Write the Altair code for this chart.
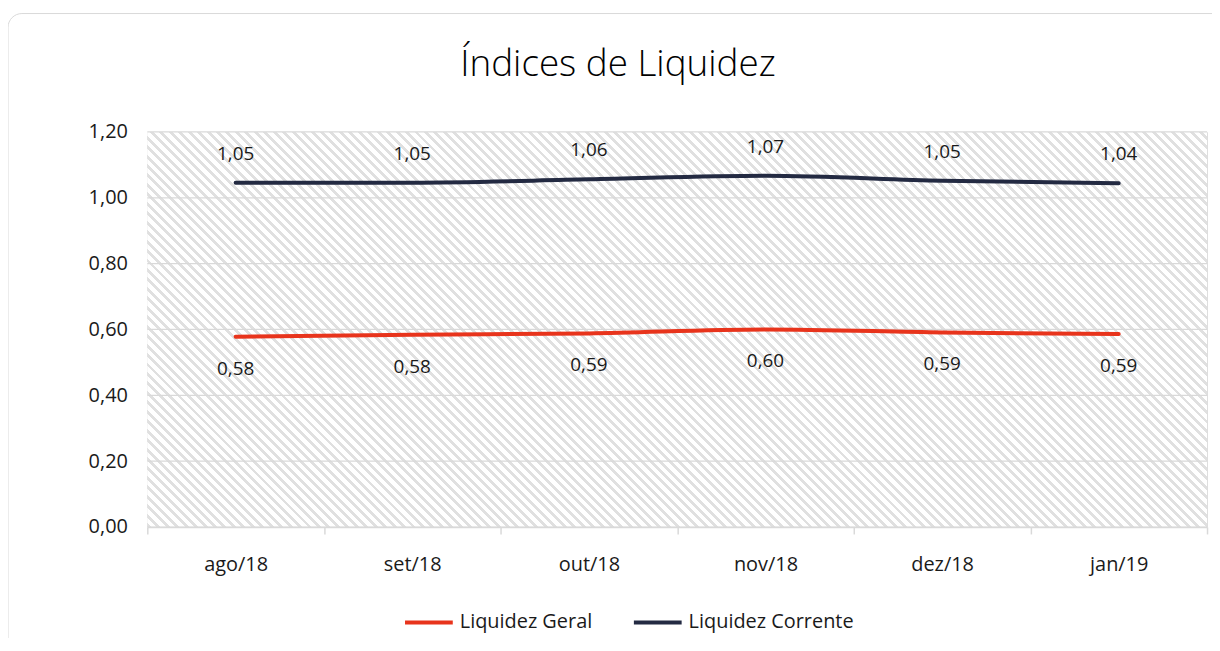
import altair as alt
import pandas as pd

months = ["ago/18", "set/18", "out/18", "nov/18", "dez/18", "jan/19"]
geral = [0.578, 0.584, 0.588, 0.600, 0.591, 0.586]
corrente = [1.046, 1.046, 1.056, 1.067, 1.052, 1.044]
series_names = ["Liquidez Geral", "Liquidez Corrente"]
series_colors = ["#E8341C", "#232A42"]
y_ticks = [0.0, 0.2, 0.4, 0.6, 0.8, 1.0, 1.2]
title_text = "Índices de Liquidez"

rows = []
for m, g, c in zip(months, geral, corrente):
    rows.append({"mes": m, "serie": series_names[0], "valor": g})
    rows.append({"mes": m, "serie": series_names[1], "valor": c})
df = pd.DataFrame(rows)
grid_df = pd.DataFrame({"valor": y_ticks})

W, H = 1065, 397
FONT = "Open Sans"
TXT = "#1a1a1a"

# diagonal hatch as a hard-stop linear gradient (stripes at 45 deg, "\" direction)
P = 9.5
span = W + H
s = span / (W * W + H * H)
duty = 0.42
stripe, blank = "#e0e0e0", "#ffffff"
stops = []
n = int(span / P) + 2
for i in range(n):
    a = min(i * P / span, 1.0)
    b = min((i * P + duty * P) / span, 1.0)
    c = min((i + 1) * P / span, 1.0)
    stops.append(alt.GradientStop(offset=a, color=stripe))
    stops.append(alt.GradientStop(offset=b, color=stripe))
    stops.append(alt.GradientStop(offset=b, color=blank))
    stops.append(alt.GradientStop(offset=c, color=blank))
    if c >= 1.0:
        break
hatch = alt.LinearGradient(gradient="linear", stops=stops, x1=0, y1=1, x2=W * s, y2=1 - H * s)

x_axis = alt.Axis(title=None, labelAngle=0, labelFontSize=20, labelColor=TXT, labelFont=FONT,
                  domainColor="#d9d9d9", domainWidth=1.5, tickColor="#d9d9d9", tickWidth=1.5,
                  tickSize=7, tickBand="extent", labelPadding=21, grid=False, zindex=1)
y_axis = alt.Axis(title=None, values=y_ticks, labelFontSize=20, labelColor=TXT, labelFont=FONT,
                  labelExpr="replace(format(datum.value, '.2f'), '.', ',')",
                  domain=False, ticks=False, labelPadding=20, grid=False)

X = alt.X("mes:N", sort=months, bandPosition=0.5,
          scale=alt.Scale(type="band", paddingInner=0, paddingOuter=0), axis=x_axis)
Y = alt.Y("valor:Q", scale=alt.Scale(domain=[0, 1.2], nice=False), axis=y_axis)

base = alt.Chart(df)
one = alt.Chart(pd.DataFrame({"k": [0]}))

bg = one.mark_rect(fill=hatch).encode(
    x=alt.value(0), x2=alt.value(W), y=alt.value(0), y2=alt.value(H))

grid = alt.Chart(grid_df).mark_rule(color="#d9d9d9", strokeWidth=1.2).encode(
    y=Y, x=alt.value(0), x2=alt.value(W))

lines = base.mark_line(strokeWidth=4, strokeCap="round", interpolate="monotone").encode(
    x=X, y=Y,
    color=alt.Color("serie:N", sort=series_names,
                    scale=alt.Scale(domain=series_names, range=series_colors),
                    legend=alt.Legend(orient="none", legendX=257, legendY=467, direction="horizontal",
                                      title=None, symbolType="stroke", symbolSize=2304,
                                      symbolStrokeWidth=4, labelFontSize=20, labelFont=FONT,
                                      labelColor=TXT, columnPadding=33, labelOffset=5, padding=0,
                                      labelLimit=400)),
)

lab = base.transform_calculate(label="replace(format(datum.valor, '.2f'), '.', ',')")
lab_corr = lab.transform_filter(alt.datum.serie == series_names[1]).mark_text(
    dy=-29, fontSize=19, font=FONT, color=TXT, baseline="middle").encode(x=X, y=Y, text="label:N")
lab_ger = lab.transform_filter(alt.datum.serie == series_names[0]).mark_text(
    dy=32, fontSize=19, font=FONT, color=TXT, baseline="middle").encode(x=X, y=Y, text="label:N")

frame = one.mark_rect(fill="#ffffff", fillOpacity=0, stroke="#d9d9d9", strokeWidth=1,
                      cornerRadius=14).encode(
    x=alt.value(-140), x2=alt.value(1090), y=alt.value(-119), y2=alt.value(540))
title = one.mark_text(text=title_text, fontSize=37, font=FONT, fontWeight=300, color="#000000",
                      align="center", baseline="alphabetic").encode(
    x=alt.value(473), y=alt.value(-56))

chart = alt.layer(frame, bg, grid, lines, lab_corr, lab_ger, title).properties(
    width=W, height=H, padding={"left": 140, "top": 123, "right": 5, "bottom": 110},
    autosize=alt.AutoSizeParams(type="none"),
    background="#ffffff",
).configure_view(stroke=None).configure(font=FONT)

chart.save("out.html", embed_options={"renderer": "svg", "actions": False})
